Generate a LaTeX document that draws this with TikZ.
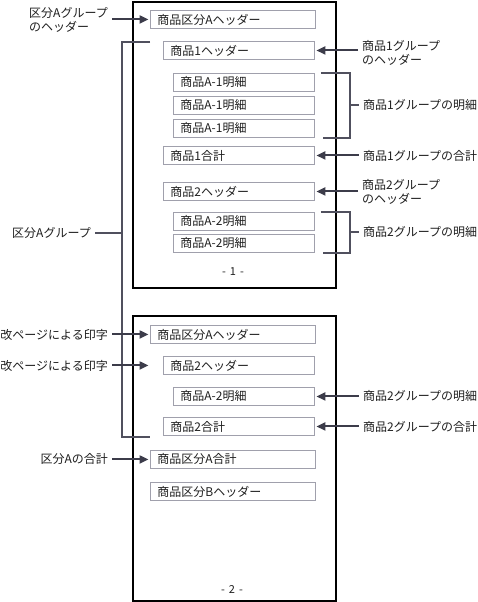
\documentclass[tikz,border=0pt]{standalone}
\usepackage{fontspec}
\setmainfont{Noto Sans CJK JP}
\usetikzlibrary{arrows.meta,calc,positioning}
\definecolor{boxgray}{HTML}{A0A0AC}
\definecolor{linegray}{HTML}{3C3C4A}
\definecolor{brackgray}{HTML}{50505E}
\definecolor{txtgray}{HTML}{1E1E1E}

\begin{document}
\begin{tikzpicture}
[x=1pt, y=-1pt, font=\fontsize{12}{14}\selectfont, text=txtgray,
>={Triangle[length=9pt,width=8pt]},
sheet/.style={rectangle, draw=black, line width=2pt, anchor=north west, minimum width=203pt, inner sep=0pt},
item/.style={rectangle, draw=boxgray, line width=0.9pt, anchor=north west, inner xsep=7pt, inner ysep=0pt, minimum height=18pt, align=left},
wide/.style={item, text width=151pt},
mid/.style={item, text width=137pt},
narrow/.style={item, text width=127pt},
note/.style={inner xsep=4pt, inner ysep=1pt, align=left},
pageno/.style={font=\fontsize{11}{13}\selectfont},
pointer/.style={draw=linegray, line width=2pt, ->, shorten >=1.5pt},
brack/.style={draw=brackgray, line width=2pt}]

\useasboundingbox (0,0) rectangle (478,602);

% pages
\node[sheet, minimum height=286pt] (page1) at (132,1) {};
\node[sheet, minimum height=285pt] (page2) at (132,315) {};

% page 1
\node[wide] (hA1) at (150,10) {商品区分Aヘッダー};
\node[mid] (h11) at (163,41) {商品1ヘッダー};
\foreach \y/\n in {73/a, 96/b, 119/c} {
  \node[narrow] (d1\n) at (173,\y) {商品A-1明細};
}
\node[mid] (s11) at (163,146) {商品1合計};
\node[mid] (h21) at (163,182) {商品2ヘッダー};
\foreach \y/\n in {212/a, 234/b} {
  \node[narrow] (d2\n) at (173,\y) {商品A-2明細};
}
\node[pageno] (pg1) at (233,272) {-\hspace{4pt}1\hspace{4pt}-};

% page 2
\node[wide] (hA2) at (150,325) {商品区分Aヘッダー};
\node[mid] (h22) at (163,356) {商品2ヘッダー};
\node[narrow] (d22) at (173,387) {商品A-2明細};
\node[mid] (s22) at (163,417) {商品2合計};
\node[wide] (sA2) at (150,450) {商品区分A合計};
\node[wide] (hB2) at (150,482) {商品区分Bヘッダー};
\node[pageno] (pg2) at (232,589) {-\hspace{4pt}2\hspace{4pt}-};

% group A bracket
\coordinate (gtop) at (122,42);
\coordinate (gbot) at (122,437);
\draw[brack] (gtop -| hA1.west) -- (gtop) -- (gbot) -- (gbot -| hA1.west);
\node[note, anchor=east] (grpA) at (95,233) {区分Aグループ};
\draw[brack] (grpA.east) -- (grpA.east -| gtop);

% left notes
\node[note, left=38pt of hA1.west, anchor=east] (lhA) {区分Aグループ\\のヘッダー};
\draw[pointer] (lhA.east) -- (lhA.east -| hA1.west);
\node[note, left=38pt of hA2.west, anchor=east] (lpb1) {改ページによる印字};
\draw[pointer] (lpb1.east) -- (lpb1.east -| hA2.west);
\node[note, left=51pt of h22.west, anchor=east] (lpb2) {改ページによる印字};
\draw[pointer] (lpb2.east) -- (lpb2.east -| hA2.west);
\node[note, left=38pt of sA2.west, anchor=east] (lsA) {区分Aの合計};
\draw[pointer] (lsA.east) -- (lsA.east -| sA2.west);

% right notes, page 1
\node[note, anchor=west] (lh1) at (358,53) {商品1グループ\\のヘッダー};
\draw[pointer] (h11.east -| lh1.west) -- (h11.east);
\node[note, right=44pt of s11.east, anchor=west] (ls1) {商品1グループの合計};
\draw[pointer] (ls1.west) -- (s11.east);
\node[note, anchor=west] (lh2) at (358,192) {商品2グループ\\のヘッダー};
\draw[pointer] (h21.east -| lh2.west) -- (h21.east);

\coordinate (m1) at ($(d1a.north east)!.5!(d1c.south east)+(35,0)$);
\draw[brack] ([xshift=6pt]d1a.north east) -| (m1) |- ([xshift=8pt]d1c.south east);
\node[note, anchor=west] (ld1) at ([xshift=9pt]m1) {商品1グループの明細};
\draw[brack] (m1) -- (ld1.west);

\coordinate (m2) at ($(d2a.north east)!.5!(d2b.south east)+(35,0)$);
\draw[brack] ([xshift=6pt]d2a.north east) -| (m2) |- ([xshift=8pt]d2b.south east);
\node[note, anchor=west] (ld2) at ([xshift=9pt]m2) {商品2グループの明細};
\draw[brack] (m2) -- (ld2.west);

% right notes, page 2
\node[note, right=44pt of d22.east, anchor=west] (ld22) {商品2グループの明細};
\draw[pointer] (ld22.west) -- (d22.east);
\node[note, right=44pt of s22.east, anchor=west] (ls22) {商品2グループの合計};
\draw[pointer] (ls22.west) -- (s22.east);
\end{tikzpicture}
\end{document}
